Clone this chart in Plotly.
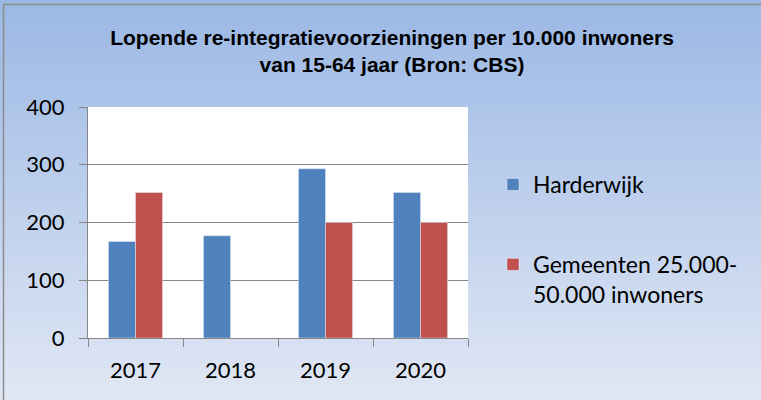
import plotly.graph_objects as go

years = ["2017", "2018", "2019", "2020"]
harderwijk = [167, 177, 293, 252]
gemeenten = [252, None, 200, 200]
series_names = ["Harderwijk", "Gemeenten 25.000-<br>50.000 inwoners"]
y_ticks = [0, 100, 200, 300, 400]

W, H = 761, 400
L, R, T, B = 88, 293, 107, 62
PW, PH = W - L - R, H - T - B

def px_x(px):
    return (px - L) / PW

def px_y(py):
    return (H - B - py) / PH

BLUE = "#4F81BD"
RED = "#C0504D"
GRAY = "#868686"

fig = go.Figure()
fig.add_trace(go.Bar(x=years, y=harderwijk, name=series_names[0], marker_color=BLUE,
                     legendgroup="a"))
fig.add_trace(go.Bar(x=years, y=gemeenten, name=series_names[1], marker_color=RED,
                     legendgroup="b"))

# background gradient bands
shapes = []
top_c = (155, 184, 229)
bot_c = (224, 231, 244)
n = 80
for i in range(n):
    t = i / (n - 1)
    c = tuple(round(top_c[k] + (bot_c[k] - top_c[k]) * t) for k in range(3))
    y0 = i * H / n
    y1 = (i + 1) * H / n + 0.6
    shapes.append(dict(type="rect", xref="paper", yref="paper", layer="below",
                       x0=px_x(-2), x1=px_x(W + 2), y0=px_y(y1), y1=px_y(y0),
                       line=dict(width=0), fillcolor="rgb(%d,%d,%d)" % c))
# white plot area
shapes.append(dict(type="rect", xref="paper", yref="paper", layer="below",
                   x0=0, x1=1, y0=0, y1=1, line=dict(width=0), fillcolor="white"))
# outer frame (top and left edges visible)
shapes.append(dict(type="line", xref="paper", yref="paper", layer="above",
                   x0=px_x(3.5), x1=px_x(W + 5), y0=px_y(4.5), y1=px_y(4.5),
                   line=dict(color="#8C8C8C", width=1.5)))
shapes.append(dict(type="line", xref="paper", yref="paper", layer="above",
                   x0=px_x(3.5), x1=px_x(3.5), y0=px_y(4.5), y1=px_y(H + 5),
                   line=dict(color="#8C8C8C", width=1.5)))

fig.update_layout(
    width=W, height=H,
    margin=dict(l=L, r=R, t=T, b=B, pad=0),
    paper_bgcolor="rgb(224,231,244)",
    plot_bgcolor="white",
    barmode="group", bargap=0.43, bargroupgap=0,
    shapes=shapes,
    title=dict(text="Lopende re-integratievoorzieningen per 10.000 inwoners<br>van 15-64 jaar (Bron: CBS)",
               x=392 / W, xanchor="center", xref="container",
               y=1 - 45 / H, yanchor="middle", yref="container",
               font=dict(family="Liberation Sans, Arial, sans-serif", size=21, color="black",
                         weight="bold")),
    font=dict(family="Lato, Calibri, sans-serif", size=22, color="black"),
    legend=dict(x=px_x(493), xanchor="left", y=px_y(163), yanchor="top",
                bgcolor="rgba(0,0,0,0)", font=dict(size=23, color="black"),
                traceorder="grouped", tracegroupgap=47, valign="top"),
    showlegend=True,
)
fig.update_xaxes(type="category", showgrid=False, showline=True, linecolor=GRAY, linewidth=1,
                 ticks="outside", tickson="boundaries", ticklen=8, tickcolor=GRAY,
                 tickfont=dict(size=22, color="black"), ticklabelstandoff=13)
fig.update_yaxes(range=[0, 400], tickvals=y_ticks, showgrid=True, gridcolor=GRAY, gridwidth=1,
                 showline=True, linecolor=GRAY, linewidth=1, zeroline=False,
                 ticks="outside", ticklen=8, tickcolor=GRAY,
                 tickfont=dict(size=22, color="black"), ticklabelstandoff=10)

fig.write_html("out.html", config={"displayModeBar": False},
               post_script="document.body.style.margin='0px';document.body.style.overflow='hidden';")
